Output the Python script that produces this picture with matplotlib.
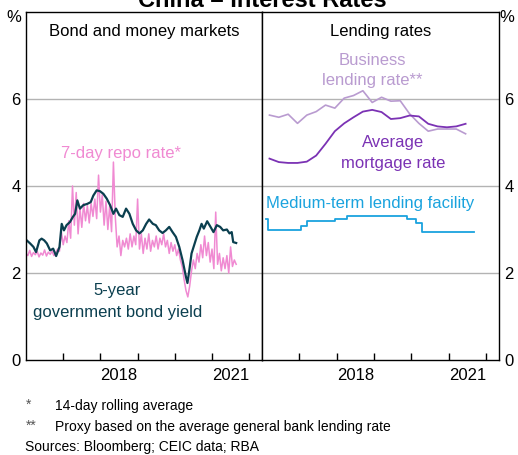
import numpy as np
import matplotlib
matplotlib.use("Agg")
import matplotlib.pyplot as plt

plt.rcParams['font.family'] = ['Liberation Sans', 'DejaVu Sans']

# --- data (decimal years) ---
# 5-year government bond yield
bond_dates = [2016.02, 2016.11, 2016.20, 2016.27, 2016.36, 2016.42, 2016.49, 2016.56, 2016.65, 2016.73,
              2016.81, 2016.90, 2016.96, 2017.02, 2017.09, 2017.18, 2017.26, 2017.32, 2017.38, 2017.45,
              2017.54, 2017.65, 2017.74, 2017.81, 2017.90, 2017.99, 2018.08, 2018.17, 2018.26, 2018.35,
              2018.42, 2018.51, 2018.60, 2018.69, 2018.78, 2018.87, 2018.96, 2019.05, 2019.14, 2019.23,
              2019.31, 2019.41, 2019.49, 2019.58, 2019.67, 2019.76, 2019.85, 2019.94, 2020.03, 2020.12,
              2020.21, 2020.30, 2020.34, 2020.39, 2020.45, 2020.52, 2020.59, 2020.66, 2020.72, 2020.78,
              2020.87, 2020.96, 2021.04, 2021.13, 2021.22, 2021.30, 2021.40, 2021.47, 2021.53, 2021.57,
              2021.65]
bond_vals = [2.75, 2.68, 2.60, 2.48, 2.75, 2.79, 2.75, 2.68, 2.52, 2.56,
             2.39, 2.60, 3.13, 2.98, 3.10, 3.17, 3.29, 3.36, 3.67, 3.48,
             3.56, 3.59, 3.63, 3.78, 3.90, 3.88, 3.82, 3.71, 3.56, 3.36,
             3.48, 3.33, 3.29, 3.48, 3.36, 3.13, 2.98, 2.91, 2.98, 3.13,
             3.23, 3.13, 3.10, 2.98, 2.92, 2.98, 3.06, 2.94, 2.83, 2.60,
             2.29, 1.91, 1.77, 2.06, 2.45, 2.64, 2.83, 2.98, 3.13, 3.02,
             3.19, 3.06, 2.94, 3.10, 3.06, 2.98, 3.00, 2.91, 2.94, 2.71,
             2.69]

# 7-day repo rate (14-day rolling average), read every ~0.05 year
repo_start, repo_end = 2016.0, 2021.65
repo_vals = [2.45, 2.40, 2.52, 2.38, 2.47, 2.42, 2.50, 2.37, 2.46, 2.41,
             2.53, 2.39, 2.48, 2.43, 2.50, 2.40, 2.47, 2.55, 2.50, 2.95,
             2.65, 2.85, 2.70, 3.20, 2.80, 4.00, 3.10, 3.85, 2.90, 3.50,
             3.05, 3.60, 3.20, 3.55, 3.15, 3.60, 3.30, 3.70, 3.25, 4.25,
             3.40, 3.80, 3.10, 3.65, 3.00, 3.55, 2.95, 4.55, 3.30, 2.60,
             2.85, 2.40, 2.75, 2.60, 2.80, 2.55, 2.90, 2.60, 2.85, 2.65,
             3.70, 2.55, 2.90, 2.45, 2.80, 2.55, 2.90, 2.50, 2.75, 2.60,
             2.85, 2.55, 2.80, 2.65, 2.90, 2.60, 2.75, 2.45, 2.70, 2.50,
             2.65, 2.40, 2.55, 2.30, 2.15, 1.85, 1.60, 1.45, 1.70, 2.05,
             2.30, 2.10, 2.45, 2.25, 2.65, 2.35, 2.85, 2.40, 2.70, 2.25,
             2.55, 2.10, 3.40, 2.20, 2.45, 2.05, 2.35, 2.10, 2.40, 2.00,
             2.60, 2.15, 2.30, 2.20]
repo_dates = np.linspace(repo_start, repo_end, len(repo_vals))

# lending rates (quarterly)
lend_dates = [2016.20, 2016.45, 2016.70, 2016.95, 2017.20, 2017.45, 2017.70, 2017.95, 2018.20, 2018.45,
              2018.70, 2018.95, 2019.20, 2019.45, 2019.70, 2019.95, 2020.20, 2020.45, 2020.70, 2020.95,
              2021.20, 2021.45]
business_vals = [5.63, 5.58, 5.65, 5.44, 5.63, 5.71, 5.86, 5.79, 6.02, 6.08,
                 6.19, 5.92, 6.04, 5.95, 5.96, 5.66, 5.44, 5.26, 5.31, 5.31,
                 5.31, 5.20]
mortgage_vals = [4.63, 4.55, 4.53, 4.53, 4.56, 4.70, 4.97, 5.26, 5.44, 5.58,
                 5.71, 5.75, 5.70, 5.54, 5.56, 5.62, 5.60, 5.43, 5.37, 5.35,
                 5.37, 5.43]

# medium-term lending facility (step changes)
mlf_dates = [2016.12, 2016.16, 2017.05, 2017.20, 2017.95, 2018.28, 2019.88, 2020.13, 2020.29, 2021.68]
mlf_vals = [3.25, 3.00, 3.08, 3.20, 3.25, 3.30, 3.25, 3.15, 2.95, 2.95]

yticks = [0, 2, 4, 6]
year_labels = [2018, 2021]

# colours
c_repo = '#f08ad2'
c_bond = '#0b3f4f'
c_bus = '#b99bd0'
c_mort = '#7b32b4'
c_mlf = '#1aa3de'
c_grid = '#b3b3b3'

W, H = 518, 455
fig = plt.figure(figsize=(W / 100, H / 100), dpi=100)

x0, xmid, x1 = 26, 262, 499
ytop, ybot = 12, 360
ax1 = fig.add_axes([x0 / W, 1 - ybot / H, (xmid - x0) / W, (ybot - ytop) / H])
ax2 = fig.add_axes([xmid / W, 1 - ybot / H, (x1 - xmid) / W, (ybot - ytop) / H])

xlim = (2016.0, 2016.0 + (xmid - x0) / 37.2)
for ax in (ax1, ax2):
    ax.set_xlim(*xlim)
    ax.set_ylim(0, 8)
    for y in yticks[1:]:
        ax.axhline(y, color=c_grid, lw=1, zorder=0)
    ax.set_xticks(range(2017, 2023))
    ax.set_xticklabels([])
    ax.tick_params(axis='x', direction='in', length=5, width=1, color='black')
    ax.set_xticks([y + 0.5 for y in year_labels], minor=True)
    ax.set_xticklabels([str(y) for y in year_labels], minor=True, fontsize=12)
    ax.tick_params(axis='x', which='minor', length=0, pad=6)
    ax.set_yticks(yticks)
    for s in ax.spines.values():
        s.set_linewidth(1)

ax1.tick_params(axis='y', length=0, labelsize=12, pad=4)
ax2.yaxis.tick_right()
ax2.tick_params(axis='y', length=0, labelsize=12, pad=4)

# left panel
ax1.plot(repo_dates, repo_vals, color=c_repo, lw=1.1)
ax1.plot(bond_dates, bond_vals, color=c_bond, lw=1.6)
ax1.text(0.5, 0.965, 'Bond and money markets', transform=ax1.transAxes,
         ha='center', va='top', fontsize=12)
ax1.text(2018.55, 4.75, '7-day repo rate*', color=c_repo, ha='center', va='center', fontsize=12)
ax1.text(2018.45, 1.6, '5-year', color=c_bond, ha='center', va='center', fontsize=12)
ax1.text(2018.45, 1.1, 'government bond yield', color=c_bond, ha='center', va='center', fontsize=12)

# right panel
ax2.plot(lend_dates, business_vals, color=c_bus, lw=1.2)
ax2.plot(lend_dates, mortgage_vals, color=c_mort, lw=1.3)
ax2.plot(mlf_dates, mlf_vals, color=c_mlf, lw=1.3, drawstyle='steps-post')
ax2.text(0.5, 0.965, 'Lending rates', transform=ax2.transAxes,
         ha='center', va='top', fontsize=12)
ax2.text(2018.95, 6.88, 'Business', color=c_bus, ha='center', va='center', fontsize=12)
ax2.text(2018.95, 6.42, 'lending rate**', color=c_bus, ha='center', va='center', fontsize=12)
ax2.text(2019.5, 5.0, 'Average', color=c_mort, ha='center', va='center', fontsize=12)
ax2.text(2019.5, 4.52, 'mortgage rate', color=c_mort, ha='center', va='center', fontsize=12)
ax2.text(2016.1, 3.6, 'Medium-term lending facility', color=c_mlf, ha='left', va='center', fontsize=12)

# % labels
fig.text(14 / W, 1 - 18 / H, '%', ha='center', va='center', fontsize=12)
fig.text(507 / W, 1 - 18 / H, '%', ha='center', va='center', fontsize=12)

# title (partly cut off at top, as in the source)
fig.text(262 / W, 1 - 7 / H, 'China \u2013 Interest Rates', ha='center', va='baseline',
         fontsize=17, fontweight='bold')

# footnotes
fig.text(26 / W, 1 - 405 / H, '*', ha='left', va='center', fontsize=10, color='#555555')
fig.text(55 / W, 1 - 406 / H, '14-day rolling average', ha='left', va='center', fontsize=10)
fig.text(26 / W, 1 - 426 / H, '**', ha='left', va='center', fontsize=10, color='#555555')
fig.text(55 / W, 1 - 427 / H, 'Proxy based on the average general bank lending rate',
         ha='left', va='center', fontsize=10)
fig.text(25 / W, 1 - 447 / H, 'Sources: Bloomberg; CEIC data; RBA', ha='left', va='center', fontsize=10)

fig.savefig('out.png', dpi=100)
